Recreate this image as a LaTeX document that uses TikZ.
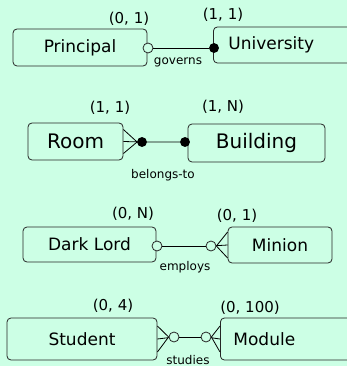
\documentclass[tikz,border=0pt]{standalone}
\usepackage{fontspec}
\setmainfont{DejaVu Sans}
\usetikzlibrary{positioning}
\definecolor{mint}{RGB}{204,255,229}
\begin{document}
\begin{tikzpicture}[x=1pt, y=-1pt, line width=0.8pt,
  entity/.style={draw=black!85, rounded corners=4pt, inner sep=0pt, font=\fontsize{17}{20}\selectfont},
  trunc/.style={anchor=west, text width=130pt, align=left, inner xsep=15pt},
  big/.style={font=\fontsize{20}{24}\selectfont},
  card/.style={font=\fontsize{15}{18}\selectfont},
  rel/.style={font=\fontsize{12}{14}\selectfont},
  opt/.style={circle, draw=black!85, fill=mint, inner sep=0pt, minimum size=10pt},
  mand/.style={circle, draw=black, fill=black, inner sep=0pt, minimum size=9pt}]
\fill[mint] (0,0) rectangle (347,366);
\useasboundingbox (0,0) rectangle (347,366);
% entities
\node[entity, minimum width=134, minimum height=37] (principal) at (80,47.5) {Principal};
\node[entity, trunc, minimum height=36] (university) at (213,45) {University};
\node[entity, big, minimum width=95, minimum height=37] (room) at (75.5,141.5) {Room};
\node[entity, big, minimum width=137, minimum height=38] (building) at (256.5,143) {Building};
\node[entity, minimum width=133, minimum height=35] (darklord) at (89.5,244.5) {Dark Lord};
\node[entity, minimum width=104, minimum height=36] (minion) at (280,245) {Minion};
\node[entity, minimum width=150, minimum height=42] (student) at (82,339) {Student};
\node[entity, trunc, inner xsep=13pt, minimum height=42] (module) at (220,339) {Module};
% governs
\node[opt] (o1) at (148,48) {};
\node[mand] (m1) at (214,48) {};
\draw (o1) -- (m1);
% belongs-to
\node[mand] (m2a) at (142,142) {};
\node[mand] (m2b) at (185,142) {};
\draw ([yshift=12pt]room.east) -- (m2a.west) -- ([yshift=-12pt]room.east);
\draw (room.east) -- (m2a) -- (m2b);
% employs
\node[opt] (o3a) at (157,246) {};
\node[opt] (o3b) at (211,246) {};
\draw (o3a) -- (o3b);
\draw ([yshift=13pt]minion.west) -- (o3b.east) -- ([yshift=-13pt]minion.west);
\draw (o3b) -- (minion.west);
% studies
\node[opt] (o4a) at (174,337) {};
\node[opt] (o4b) at (206,337) {};
\draw ([yshift=13pt]student.east) -- (o4a.west) -- ([yshift=-13pt]student.east);
\draw (student.east) -- (o4a);
\draw (o4a) -- (o4b);
\draw ([yshift=13pt]module.west) -- (o4b.east) -- ([yshift=-13pt]module.west);
\draw (o4b) -- (module.west);
% cardinalities
\foreach \t/\x/\y [count=\i] in {{(0, 1)}/129/19, {(1, 1)}/223/15, {(1, 1)}/110/108, {(1, N)}/223/107,
  {(0, N)}/133/214, {(0, 1)}/237/216, {(0, 4)}/113/306, {(0, 100)}/250/308}
  \node[card] (c\i) at (\x,\y) {\t};
% relationship names
\foreach \t/\x/\y [count=\i] in {governs/178/62, belongs-to/163/175, employs/185/267, studies/188/360}
  \node[rel] (r\i) at (\x,\y) {\t};
\end{tikzpicture}
\end{document}
